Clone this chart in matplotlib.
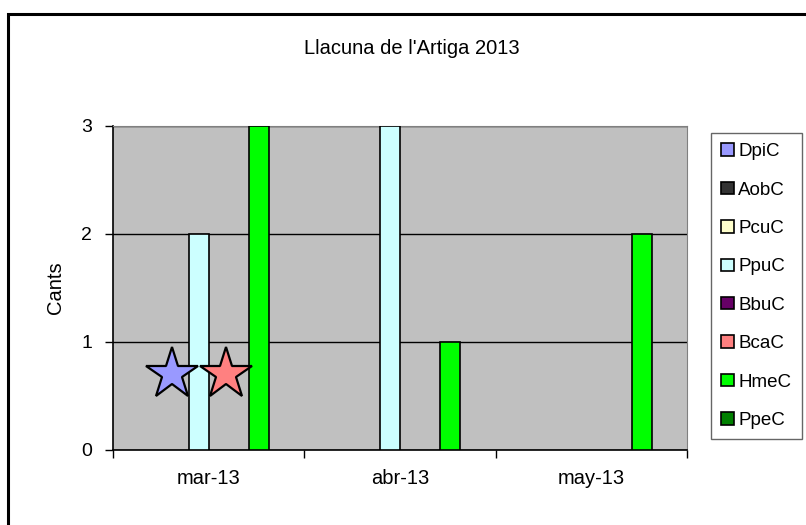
import numpy as np
import matplotlib
matplotlib.use('Agg')
import matplotlib.pyplot as plt
from matplotlib.patches import Rectangle

plt.rcParams['font.family'] = ['Liberation Sans', 'DejaVu Sans']

# data
months = ['mar-13', 'abr-13', 'may-13']
species = ['DpiC', 'AobC', 'PcuC', 'PpuC', 'BbuC', 'BcaC', 'HmeC', 'PpeC']
colors = ['#9999FF', '#333333', '#FFFFCC', '#CCFFFF', '#660066', '#FF8080', '#00FF00', '#008000']
counts = {
    'DpiC': [0, 0, 0],
    'AobC': [0, 0, 0],
    'PcuC': [0, 0, 0],
    'PpuC': [2, 3, 0],
    'BbuC': [0, 0, 0],
    'BcaC': [0, 0, 0],
    'HmeC': [3, 1, 2],
    'PpeC': [0, 0, 0],
}

# stars drawn on the chart (presence marks, no count)
star_species = ['DpiC', 'BcaC']
star_month = 'mar-13'
star_level = 0.70
star_shift = [-0.19, 0.09]

fig = plt.figure(figsize=(8.06, 5.25), dpi=100)
ax = fig.add_axes([113 / 806, 1 - 450 / 525, 574 / 806, 324 / 525])
ax.set_facecolor('#C0C0C0')

x = np.arange(len(months))
w = 1 / 9.5
for i, sp in enumerate(species):
    vals = np.array(counts[sp])
    pos = x + (i - 3.5) * w
    keep = vals > 0
    ax.bar(pos[keep], vals[keep], width=w, color=colors[i], edgecolor='black',
           linewidth=1.2, zorder=3)
    # proxy for legend
    ax.bar([0], [0], width=0, color=colors[i], edgecolor='black', linewidth=1.2, label=sp)

for sp, dx in zip(star_species, star_shift):
    ax.plot(months.index(star_month) + dx, star_level, marker='*', markersize=39,
            markerfacecolor=colors[species.index(sp)], markeredgecolor='black',
            markeredgewidth=1.6, linestyle='none', zorder=5)

ax.set_xlim(-0.5, 2.5)
ax.set_ylim(0, 3)
ax.set_yticks([0, 1, 2, 3])
ax.yaxis.grid(True, color='black', linewidth=1)
ax.set_axisbelow(True)
ax.tick_params(axis='y', direction='out', length=6, width=1, pad=9, labelsize=14, colors='black')

ax.set_xticks(np.arange(-0.5, 3, 1))
ax.set_xticklabels([])
ax.set_xticks(x, minor=True)
ax.set_xticklabels(months, minor=True)
ax.tick_params(axis='x', which='major', direction='out', length=6, width=1)
ax.tick_params(axis='x', which='minor', length=0, pad=14, labelsize=14.5)

for s in ['top', 'right']:
    ax.spines[s].set_color('#808080')
for s in ['left', 'bottom']:
    ax.spines[s].set_color('black')
    ax.spines[s].set_linewidth(1.2)

ax.set_ylabel('Cants', fontsize=14.5, labelpad=12)
fig.text(412 / 806, 1 - 48 / 525, "Llacuna de l'Artiga 2013", ha='center', va='center', fontsize=14.5)

leg = fig.legend(loc='upper left', bbox_to_anchor=(711 / 806, 1 - 133 / 525), borderaxespad=0,
                 fontsize=13.5, frameon=True, fancybox=False, edgecolor='#404040',
                 handlelength=0.65, handleheight=0.65, handletextpad=0.25,
                 labelspacing=1.14, borderpad=0.55)
leg.get_frame().set_linewidth(1)

# chart area border
fig.patches.append(Rectangle((8 / 806, -0.1), 1.2, 1 - 14 / 525 + 0.1, transform=fig.transFigure,
                             fill=False, edgecolor='black', linewidth=2.2))

fig.savefig('out.png', dpi=100)
